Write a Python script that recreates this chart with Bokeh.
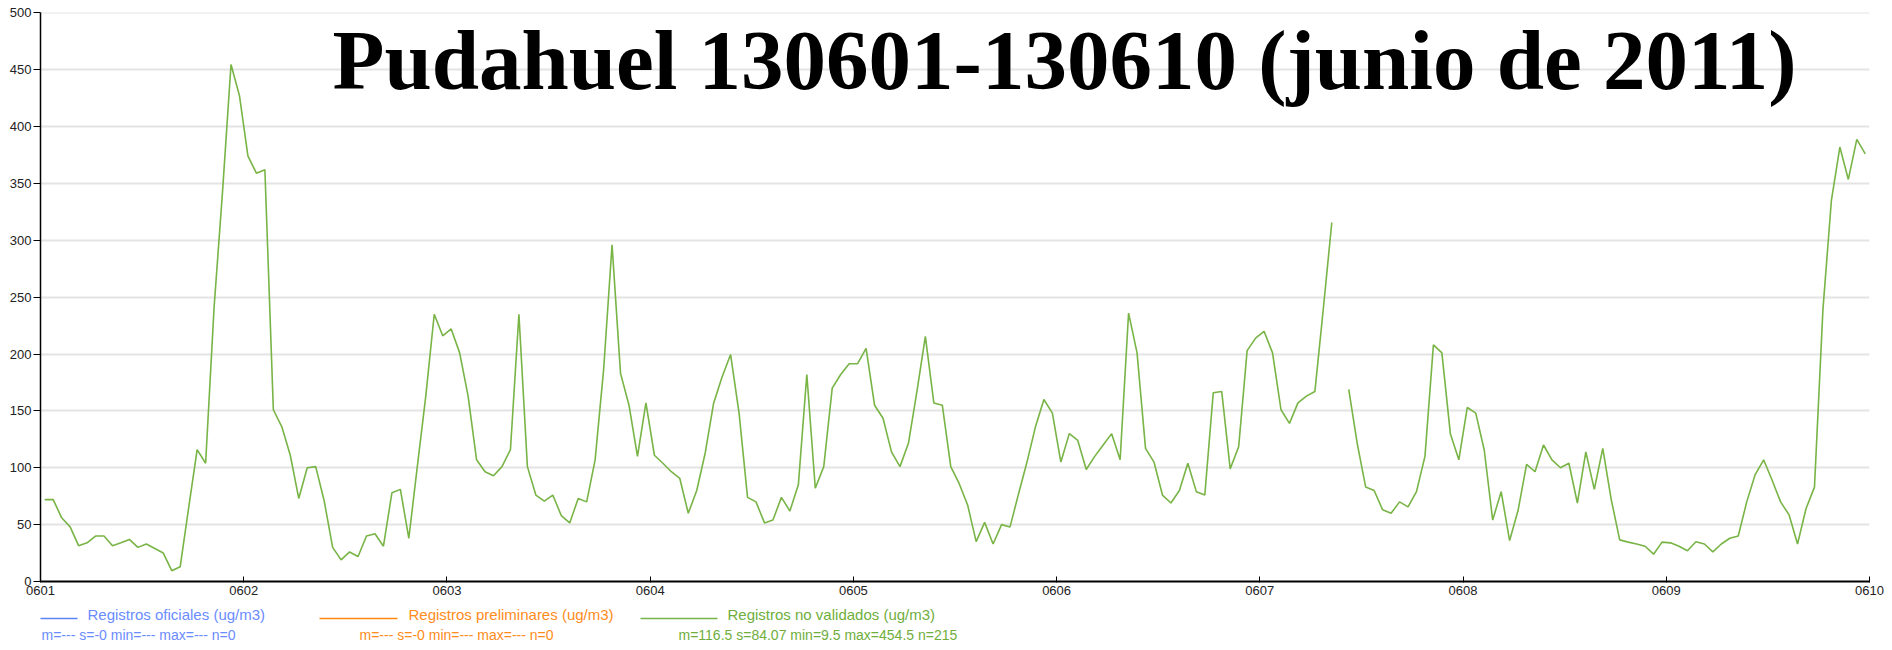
import numpy as np
from bokeh.plotting import figure
from bokeh.layouts import column
from bokeh.models import Range1d, FixedTicker, Label
from bokeh.core.properties import value
from bokeh.embed import file_html
from bokeh.resources import INLINE

# ---- data (hourly PM values, ug/m3) ----
day_0601 = [72, 72, 56, 48, 31.5, 34, 40, 40, 31.5, 34, 37, 30, 33, 29, 25, 9.5, 13, 65, 116, 104, 241, 343, 454.5, 427]
day_0602 = [374, 359, 362, 151, 136, 111, 73, 100, 101, 71, 30, 19, 26, 22, 40, 42, 31, 78, 81, 38, 101, 163, 235, 216]
day_0603 = [222, 201, 163, 107, 96.5, 93, 101, 116, 235, 101, 76, 70.6, 76, 58, 51.5, 73, 70, 107, 186, 296, 183, 155, 110, 157]
day_0604 = [111, 104, 96.5, 90.6, 60, 80, 113, 157, 180, 199.5, 148, 74, 70, 51.5, 54, 74, 62, 85, 182, 82, 101, 170, 182, 191.5]
day_0605 = [191.5, 205, 155, 143.5, 114, 101, 121.5, 167, 215.6, 157, 155, 101, 86, 67, 35, 52, 33, 50, 48, 77, 105, 136, 160, 148]
day_0606 = [105, 130, 124, 98.5, 110, 120, 130, 107, 236, 201, 117, 105, 76, 69, 80, 104, 79, 76, 166, 167, 99, 118.5, 203, 214]
day_0607 = [220, 201, 151, 139, 157, 163, 167, 240, 315.6, None, 169, 121.5, 83, 80, 63, 60, 70, 65.6, 79, 110, 208, 201, 130, 107]
day_0608 = [153, 148, 115.6, 54, 79, 36, 62.6, 103, 96.5, 120, 107, 100, 104, 69, 114, 81, 117, 72, 36.6, 34.6, 33, 31, 24, 34.6]
day_0609 = [34, 31, 27, 35, 33, 26, 33, 38, 40, 70, 94, 107, 89, 70, 58.6, 33, 64, 83, 239, 335, 382, 353.5, 388.7, 376]

# the two other series have no records (n=0)
oficiales_values = []
preliminares_values = []

tick_labels = ["0601", "0602", "0603", "0604", "0605", "0606", "0607", "0608", "0609", "0610"]
y_ticks = [0, 50, 100, 150, 200, 250, 300, 350, 400, 450, 500]

legend_names = ["Registros oficiales (ug/m3)", "Registros preliminares (ug/m3)", "Registros no validados (ug/m3)"]
legend_stats = ["m=--- s=-0 min=--- max=--- n=0", "m=--- s=-0 min=--- max=--- n=0",
                "m=116.5 s=84.07 min=9.5 max=454.5 n=215"]
legend_text_colors = ["#6a8cff", "#ff8c1a", "#6fae3c"]
legend_line_colors = ["#5b84f5", "#ff8a10", "#78b446"]

title_text = "Pudahuel 130601-130610 (junio de 2011)"

values = []
for d in [day_0601, day_0602, day_0603, day_0604, day_0605, day_0606, day_0607, day_0608, day_0609]:
    values.extend([np.nan if v is None else v for v in d])
values = np.array(values, dtype=float)
hours = np.arange(len(values)) + 0.5

# ---- layout helpers (page pixels -> data units of the frame) ----
W, H = 1892, 650
H_MAIN = 604
FL, FR, FT, FB = 40, 1869, 12, 581          # frame edges in page pixels
X_END = 216.0
Y_END = 500.26
XS = (FR - FL) / X_END
YS = (FB - FT) / Y_END
BASE_SHIFT = 0.38                           # text box baseline correction (em)


def dx(px):
    return (px - FL) / XS


def dy(py):
    return (FB - py) / YS


p = figure(width=W, height=H_MAIN, output_backend="svg", toolbar_location=None,
           x_range=Range1d(0, X_END), y_range=Range1d(0, Y_END),
           min_border_left=FL, min_border_right=W - FR, min_border_top=FT, min_border_bottom=H_MAIN - FB)
p.outline_line_color = None
p.background_fill_color = "white"
p.border_fill_color = "white"

p.xgrid.visible = False
p.ygrid.ticker = FixedTicker(ticks=y_ticks[1:])
p.ygrid.grid_line_color = "#e4e4e4"
p.ygrid.grid_line_width = 2

p.yaxis.ticker = FixedTicker(ticks=y_ticks)
p.yaxis.major_tick_out = 7
p.yaxis.major_tick_in = 0
p.yaxis.minor_tick_line_color = None
p.yaxis.axis_line_color = "black"
p.yaxis.axis_line_width = 1.5
p.yaxis.major_tick_line_width = 1
p.yaxis.major_label_standoff = 2
p.yaxis.major_label_text_font = "Liberation Sans"
p.yaxis.major_label_text_font_size = "13px"
p.yaxis.major_label_text_color = "#222222"

xt = [24 * i for i in range(len(tick_labels))]
p.xaxis.ticker = FixedTicker(ticks=xt)
p.xaxis.major_label_overrides = {t: lab for t, lab in zip(xt, tick_labels)}
p.xaxis.major_tick_in = 5
p.xaxis.major_tick_out = 1
p.xaxis.minor_tick_line_color = None
p.xaxis.axis_line_color = "black"
p.xaxis.axis_line_width = 2
p.xaxis.major_label_standoff = 3
p.xaxis.major_label_text_font = "Liberation Sans"
p.xaxis.major_label_text_font_size = "13px"
p.xaxis.major_label_text_color = "#222222"

p.line(x=list(range(len(oficiales_values))), y=oficiales_values, line_color=legend_line_colors[0], line_width=1.5)
p.line(x=list(range(len(preliminares_values))), y=preliminares_values, line_color=legend_line_colors[1], line_width=1.5)
p.line(hours, values, line_color=legend_line_colors[2], line_width=1.6)

p.add_layout(Label(x=dx(332), y=dy(92 - BASE_SHIFT * 85), text=title_text, text_font="Liberation Serif",
                   text_font_style="bold", text_font_size="85px", text_color="black",
                   text_baseline="alphabetic", text_align="left"))

# ---- legend strip (page pixel coordinates; its frame is aligned with the chart frame) ----
lg = figure(width=W, height=H - H_MAIN, output_backend="svg", toolbar_location=None,
            x_range=Range1d(FL, FR), y_range=Range1d(H, H_MAIN),
            x_axis_type=None, y_axis_type=None,
            min_border_left=FL, min_border_right=W - FR, min_border_top=0, min_border_bottom=0)
lg.outline_line_color = None
lg.grid.visible = False
lg.background_fill_color = "white"
lg.border_fill_color = "white"

swatch_x0 = [0, 319, 640]
swatch_x1 = [77, 397, 717]
swatch_y = 618
lg.segment(x0=swatch_x0, y0=[swatch_y] * 3, x1=swatch_x1, y1=[swatch_y] * 3,
           line_color=legend_line_colors, line_width=1.5)

name_x = [87, 408, 727]
stat_x = [41, 359, 678]
lg.text(x=name_x, y=[620 - BASE_SHIFT * 15] * 3, text=legend_names, text_color=legend_text_colors,
        text_font=value("Liberation Sans"), text_font_size="15px", text_baseline="alphabetic")
lg.text(x=stat_x, y=[640 - BASE_SHIFT * 14] * 3, text=legend_stats, text_color=legend_text_colors,
        text_font=value("Liberation Sans"), text_font_size="14px", text_baseline="alphabetic")

layout = column(p, lg, spacing=0)
open("out.html", "w").write(file_html(layout, INLINE))
